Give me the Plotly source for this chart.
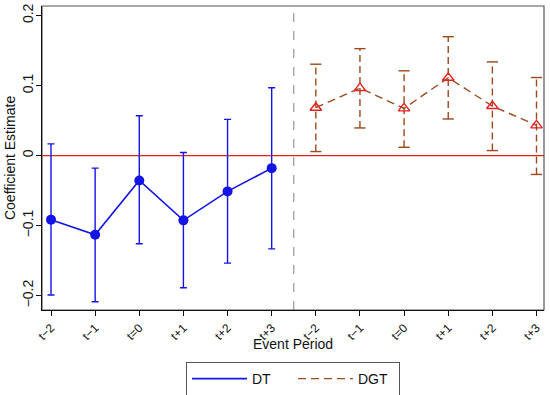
import plotly.graph_objects as go

# ---- data ----
tick_labels = ["t\u22122", "t\u22121", "t=0", "t+1", "t+2", "t+3",
               "t\u22122", "t\u22121", "t=0", "t+1", "t+2", "t+3"]
dt_x = [1, 2, 3, 4, 5, 6]
dt_coef = [-0.0915, -0.113, -0.0356, -0.0925, -0.0512, -0.018]
dt_upper = [0.0166, -0.018, 0.0569, 0.0043, 0.0517, 0.0967]
dt_lower = [-0.199, -0.2087, -0.126, -0.1887, -0.1536, -0.1333]

dgt_x = [7, 8, 9, 10, 11, 12]
dgt_coef = [0.0683, 0.0963, 0.0673, 0.111, 0.0707, 0.0431]
dgt_upper = [0.1304, 0.1526, 0.121, 0.1697, 0.1337, 0.1114]
dgt_lower = [0.0057, 0.0394, 0.0118, 0.0522, 0.0071, -0.027]

y_ticks = [-0.2, -0.1, 0, 0.1, 0.2]
y_tick_text = ["\u22120.2", "\u22120.1", "0", "0.1", "0.2"]

BLUE = "#1414E6"
BROWN = "#9A4A1E"
RED = "#E82020"
FONT = "Liberation Sans, Arial, sans-serif"

fig = go.Figure()

# zero line
fig.add_hline(y=0, line=dict(color="#E02222", width=1.3), layer="below")
# separator
fig.add_vline(x=6.5, line=dict(color="#999999", width=1.2, dash="dash"), layer="below")

# DT error bars + markers
fig.add_trace(go.Scatter(
    x=dt_x, y=dt_coef, mode="markers", showlegend=False,
    marker=dict(color=BLUE, size=10, symbol="circle"),
    error_y=dict(type="data", symmetric=False,
                 array=[u - c for u, c in zip(dt_upper, dt_coef)],
                 arrayminus=[c - l for l, c in zip(dt_lower, dt_coef)],
                 color=BLUE, thickness=1.4, width=3.5),
))
# DT line
fig.add_trace(go.Scatter(
    x=dt_x, y=dt_coef, mode="lines", name="DT",
    line=dict(color=BLUE, width=1.6),
))

# DGT dashed error bars
ex, ey = [], []
for x, lo, hi in zip(dgt_x, dgt_lower, dgt_upper):
    ex += [x, x, None]
    ey += [lo, hi, None]
fig.add_trace(go.Scatter(
    x=ex, y=ey, mode="lines", showlegend=False,
    line=dict(color=BROWN, width=1.4, dash="7px,4px"),
))
# DGT caps
fig.add_trace(go.Scatter(
    x=dgt_x + dgt_x, y=dgt_upper + dgt_lower, mode="markers", showlegend=False,
    marker=dict(symbol="line-ew", size=8, line=dict(color=BROWN, width=1.4)),
))
# DGT line
fig.add_trace(go.Scatter(
    x=dgt_x, y=dgt_coef, mode="lines", name="DGT",
    line=dict(color=BROWN, width=1.4, dash="8px,5px"),
))
# DGT markers
fig.add_trace(go.Scatter(
    x=dgt_x, y=dgt_coef, mode="markers", showlegend=False,
    marker=dict(symbol="triangle-up-open", size=10, color=RED,
                line=dict(color=RED, width=1.4)),
))

# frame (top/right gray)
fig.add_shape(type="rect", xref="paper", yref="paper", x0=0, x1=1, y0=0, y1=1,
              line=dict(color="#555555", width=1.2), layer="below")

fig.add_annotation(text="Event Period", xref="paper", yref="paper",
                   x=0.5, y=-0.113, xanchor="center", yanchor="middle",
                   showarrow=False, font=dict(size=14, family=FONT, color="#111111"))
fig.add_annotation(text="Coefficient Estimate", xref="paper", yref="paper",
                   x=-0.0637, y=0.5, xanchor="center", yanchor="middle", textangle=-90,
                   showarrow=False, font=dict(size=14, family=FONT, color="#111111"))

fig.update_layout(
    width=550, height=395,
    margin=dict(l=42, r=6, t=6, b=85, autoexpand=False),
    paper_bgcolor="white", plot_bgcolor="white",
    font=dict(family=FONT, size=14, color="#111111"),
    showlegend=True,
    legend=dict(orientation="h", x=0.5, xanchor="center", y=-0.171, yanchor="top",
                bordercolor="#555555", borderwidth=1,
                font=dict(size=14, family=FONT),
                itemwidth=55, entrywidth=36, entrywidthmode="pixels",
                tracegroupgap=0),
)
fig.update_xaxes(
    range=[0.796, 12.17], tickmode="array", tickvals=list(range(1, 13)),
    ticktext=tick_labels, tickangle=-45, ticks="outside", ticklen=5,
    tickcolor="#111111", showgrid=False, zeroline=False, automargin=False,
    showline=True, linecolor="#111111", linewidth=1.2,
    tickfont=dict(size=12),
)
fig.update_yaxes(
    range=[-0.2205, 0.2135], tickmode="array", tickvals=y_ticks,
    ticktext=y_tick_text, tickangle=-90, ticks="outside", ticklen=5,
    tickcolor="#111111", showgrid=False, zeroline=False, automargin=False,
    showline=True, linecolor="#111111", linewidth=1.2,
    tickfont=dict(size=14), ticklabelstandoff=-3,
)

fig.write_html("out.html", config={"displayModeBar": False},
               post_script="document.body.style.margin='0';document.body.style.padding='0';")
